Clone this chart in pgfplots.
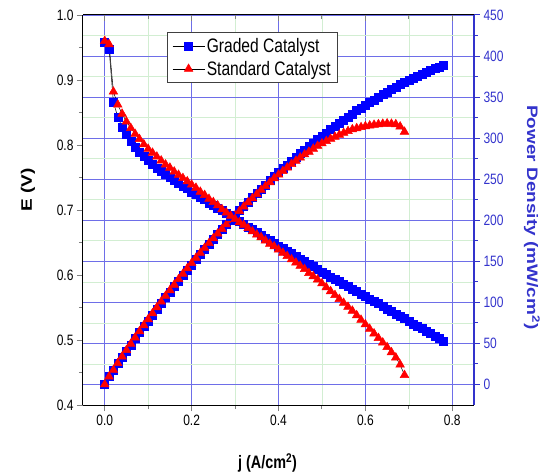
\documentclass[border=0pt]{standalone}
\usepackage{fontspec}
\setmainfont{Liberation Sans}[FakeStretch=0.8]
\newfontfamily\rotfont{Liberation Sans}[FakeStretch=1.25]
\usepackage{pgfplots}
\pgfplotsset{compat=1.18}
\definecolor{axisblue}{RGB}{51,51,204}
\definecolor{gridblue}{RGB}{110,110,232}
\definecolor{gridgreen}{RGB}{210,238,210}
\pgfplotsset{
  base/.style={scale only axis, width=391pt, height=390pt, xmin=-0.05, xmax=0.85,
    /pgf/number format/assume math mode=true,
    tick label style={font=\fontsize{15}{17}\selectfont},
    xtick={0,0.2,0.4,0.6,0.8}, minor xtick={0.1,0.3,0.5,0.7},
    major tick length=6pt, minor tick length=4pt,
    axis line style={line width=1pt}, every tick/.append style={line width=0.9pt}},
}
\begin{document}
\begin{tikzpicture}
% right axis (power density) with grid
\begin{axis}[base,
  ymin=-25, ymax=450,
  axis y line*=right, axis x line*=bottom,
  tick align=outside,
  xticklabels={},
  ytick={0,50,...,450}, minor ytick={25,75,...,425},
  grid=both,
  major grid style={gridblue, line width=0.8pt},
  minor grid style={gridgreen, line width=0.6pt},
  y axis line style={axisblue, line width=1.2pt},
  ytick style={axisblue, line width=1pt},
  yticklabel style={axisblue, /pgf/number format/fixed, /pgf/number format/precision=0},
  ylabel={Power Density (mW/cm\textsuperscript{2})},
  ylabel style={at={(axis description cs:1.148,0.481)}, anchor=center, rotate=180,
    font=\rotfont\fontsize{15.2}{17}\selectfont\bfseries, text=axisblue},
]
\addplot[black, line width=0.5pt, mark=square*, mark size=4pt, mark options={draw=blue, fill=blue, solid}] coordinates {
(0,0) (0.01,9.48) (0.02,17.32) (0.03,25.29) (0.04,33.12) (0.05,40.80) (0.06,48.36) (0.07,55.79) (0.08,63.12) (0.09,70.38)
(0.10,77.60) (0.11,84.70) (0.12,91.80) (0.13,98.80) (0.14,105.70) (0.15,112.50) (0.16,119.36) (0.17,125.97) (0.18,132.66) (0.19,139.27)
(0.20,145.60) (0.21,152.04) (0.22,158.40) (0.23,164.68) (0.24,170.64) (0.25,176.75) (0.26,182.78) (0.27,188.73) (0.28,194.60) (0.29,200.39)
(0.30,206.10) (0.31,211.73) (0.32,216.96) (0.33,222.42) (0.34,227.80) (0.35,233.10) (0.36,237.96) (0.37,243.09) (0.38,248.14) (0.39,253.11)
(0.40,258.00) (0.41,262.81) (0.42,267.54) (0.43,272.19) (0.44,276.76) (0.45,281.25) (0.46,285.66) (0.47,289.99) (0.48,294.24) (0.49,298.41)
(0.50,302.50) (0.51,306.51) (0.52,310.44) (0.53,314.82) (0.54,318.60) (0.55,322.30) (0.56,325.92) (0.57,329.46) (0.58,333.50) (0.59,336.89)
(0.60,340.20) (0.61,343.43) (0.62,346.58) (0.63,350.28) (0.64,353.28) (0.65,356.20) (0.66,359.04) (0.67,361.80) (0.68,365.16) (0.69,367.77)
(0.70,370.30) (0.71,372.75) (0.72,375.12) (0.73,378.14) (0.74,380.36) (0.75,382.50) (0.76,384.56) (0.77,386.54) (0.78,388.44)
};
\addplot[black, line width=0.5pt, mark=triangle*, mark size=5pt, mark options={draw=red, fill=red, solid}] coordinates {
(0,0) (0.01,9.55) (0.02,17.64) (0.03,25.86) (0.04,33.92) (0.05,41.80) (0.06,49.56) (0.07,57.19) (0.08,64.72) (0.09,72.09)
(0.10,79.40) (0.11,86.68) (0.12,93.84) (0.13,100.88) (0.14,107.80) (0.15,114.75) (0.16,121.44) (0.17,128.18) (0.18,134.82) (0.19,141.36)
(0.20,147.80) (0.21,154.14) (0.22,160.16) (0.23,166.29) (0.24,172.08) (0.25,178.00) (0.26,183.82) (0.27,189.27) (0.28,194.88) (0.29,200.39)
(0.30,205.80) (0.31,211.11) (0.32,216.64) (0.33,221.76) (0.34,226.78) (0.35,231.70) (0.36,236.88) (0.37,241.61) (0.38,246.24) (0.39,251.16)
(0.40,255.60) (0.41,259.94) (0.42,264.18) (0.43,268.32) (0.44,272.36) (0.45,276.30) (0.46,280.14) (0.47,283.41) (0.48,287.04) (0.49,290.57)
(0.50,293.50) (0.51,296.31) (0.52,299.00) (0.53,301.57) (0.54,304.02) (0.55,306.35) (0.56,308.56) (0.57,310.65) (0.58,312.04) (0.59,313.29)
(0.60,314.40) (0.61,315.37) (0.62,316.20) (0.63,316.89) (0.64,317.44) (0.65,317.85) (0.66,317.46) (0.67,316.91) (0.68,314.16) (0.69,307.74)
};
\end{axis}
% top ticks
\begin{axis}[base, ymin=0, ymax=1,
  axis x line*=top, axis y line=none, ytick=\empty,
  tick align=inside, xticklabels={},
]
\end{axis}
% left axis (cell voltage)
\begin{axis}[base,
  ymin=0.4, ymax=1.0,
  axis y line*=left, axis x line*=bottom,
  tick align=outside,
  ytick={0.4,0.5,0.6,0.7,0.8,0.9,1.0}, minor ytick={0.45,0.55,0.65,0.75,0.85,0.95},
  xticklabel style={/pgf/number format/fixed, /pgf/number format/fixed zerofill, /pgf/number format/precision=1},
  yticklabel style={/pgf/number format/fixed, /pgf/number format/fixed zerofill, /pgf/number format/precision=1},
  xlabel={j (A/cm\textsuperscript{2})},
  xlabel style={at={(axis description cs:0.472,-0.1487)}, anchor=center, font=\fontsize{18}{20}\selectfont\bfseries},
  ylabel={E (V)},
  ylabel style={at={(axis description cs:-0.141,0.551)}, anchor=center, font=\rotfont\fontsize{15.2}{17}\selectfont\bfseries},
  legend style={at={(0.215,0.956)}, anchor=north west, draw=black!75, line width=0.7pt, fill=white,
    font=\fontsize{19.5}{21}\selectfont, inner xsep=5pt, inner ysep=4pt, row sep=3pt},
  legend cell align=left,
  legend image code/.code={\draw[mark repeat=2, mark phase=2, line width=0.5pt, black] plot coordinates {(0cm,0cm) (0.56cm,0cm) (1.12cm,0cm)};},
]
\addplot[black, line width=0.5pt, mark=square*, mark size=4pt, mark options={draw=blue, fill=blue, solid}] coordinates {
(0,0.958) (0.01,0.948) (0.02,0.866) (0.03,0.843) (0.04,0.828) (0.05,0.816) (0.06,0.806) (0.07,0.797) (0.08,0.789) (0.09,0.782)
(0.10,0.776) (0.11,0.770) (0.12,0.765) (0.13,0.760) (0.14,0.755) (0.15,0.750) (0.16,0.746) (0.17,0.741) (0.18,0.737) (0.19,0.733)
(0.20,0.728) (0.21,0.724) (0.22,0.720) (0.23,0.716) (0.24,0.711) (0.25,0.707) (0.26,0.703) (0.27,0.699) (0.28,0.695) (0.29,0.691)
(0.30,0.687) (0.31,0.683) (0.32,0.678) (0.33,0.674) (0.34,0.670) (0.35,0.666) (0.36,0.661) (0.37,0.657) (0.38,0.653) (0.39,0.649)
(0.40,0.645) (0.41,0.641) (0.42,0.637) (0.43,0.633) (0.44,0.629) (0.45,0.625) (0.46,0.621) (0.47,0.617) (0.48,0.613) (0.49,0.609)
(0.50,0.605) (0.51,0.601) (0.52,0.597) (0.53,0.594) (0.54,0.590) (0.55,0.586) (0.56,0.582) (0.57,0.578) (0.58,0.575) (0.59,0.571)
(0.60,0.567) (0.61,0.563) (0.62,0.559) (0.63,0.556) (0.64,0.552) (0.65,0.548) (0.66,0.544) (0.67,0.540) (0.68,0.537) (0.69,0.533)
(0.70,0.529) (0.71,0.525) (0.72,0.521) (0.73,0.518) (0.74,0.514) (0.75,0.510) (0.76,0.506) (0.77,0.502) (0.78,0.498)
};
\addlegendentry{Graded Catalyst}
\addplot[black, line width=0.5pt, mark=triangle*, mark size=5pt, mark options={draw=red, fill=red, solid}] coordinates {
(0,0.960) (0.01,0.955) (0.02,0.882) (0.03,0.862) (0.04,0.848) (0.05,0.836) (0.06,0.826) (0.07,0.817) (0.08,0.809) (0.09,0.801)
(0.10,0.794) (0.11,0.788) (0.12,0.782) (0.13,0.776) (0.14,0.770) (0.15,0.765) (0.16,0.759) (0.17,0.754) (0.18,0.749) (0.19,0.744)
(0.20,0.739) (0.21,0.734) (0.22,0.728) (0.23,0.723) (0.24,0.717) (0.25,0.712) (0.26,0.707) (0.27,0.701) (0.28,0.696) (0.29,0.691)
(0.30,0.686) (0.31,0.681) (0.32,0.677) (0.33,0.672) (0.34,0.667) (0.35,0.662) (0.36,0.658) (0.37,0.653) (0.38,0.648) (0.39,0.644)
(0.40,0.639) (0.41,0.634) (0.42,0.629) (0.43,0.624) (0.44,0.619) (0.45,0.614) (0.46,0.609) (0.47,0.603) (0.48,0.598) (0.49,0.593)
(0.50,0.587) (0.51,0.581) (0.52,0.575) (0.53,0.569) (0.54,0.563) (0.55,0.557) (0.56,0.551) (0.57,0.545) (0.58,0.538) (0.59,0.531)
(0.60,0.524) (0.61,0.517) (0.62,0.510) (0.63,0.503) (0.64,0.496) (0.65,0.489) (0.66,0.481) (0.67,0.473) (0.68,0.462) (0.69,0.446)
};
\addlegendentry{Standard Catalyst}
\end{axis}
\pgfresetboundingbox
\path[use as bounding box] (-83pt,-69pt) rectangle (457pt,405pt);
\end{tikzpicture}
\end{document}
